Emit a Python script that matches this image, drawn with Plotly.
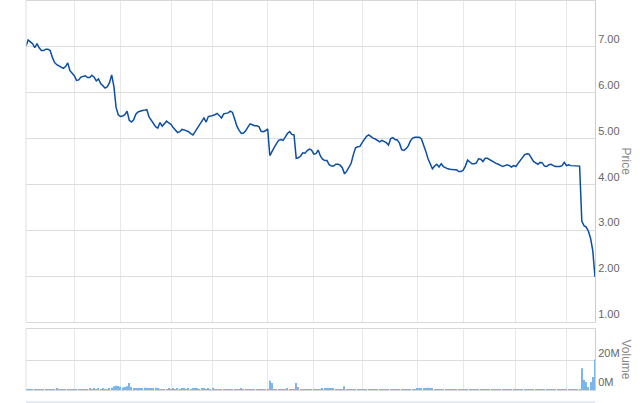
import plotly.graph_objects as go

# Daily closing price (one value per trading day)
price = [
    7.02, 7.15, 7.11, 7.07, 6.98, 7.07, 6.98, 6.92, 6.92, 6.95,
    6.95, 6.92, 6.77, 6.66, 6.61, 6.58, 6.56, 6.53, 6.57, 6.65,
    6.48, 6.43, 6.37, 6.27, 6.28, 6.34, 6.35, 6.37, 6.33, 6.33,
    6.38, 6.34, 6.26, 6.30, 6.20, 6.15, 6.10, 6.13, 6.22, 6.39,
    6.14, 5.68, 5.52, 5.48, 5.49, 5.52, 5.60, 5.40, 5.36, 5.41,
    5.53, 5.58, 5.60, 5.61, 5.62, 5.63, 5.47, 5.39, 5.32, 5.26,
    5.23, 5.35, 5.27, 5.32, 5.38, 5.34, 5.31, 5.24, 5.18, 5.13,
    5.15, 5.20, 5.19, 5.17, 5.15, 5.11, 5.08, 5.15, 5.23, 5.31,
    5.38, 5.45, 5.36, 5.48, 5.49, 5.50, 5.52, 5.55, 5.50, 5.45,
    5.54, 5.55, 5.56, 5.60, 5.57, 5.42, 5.27, 5.18, 5.11, 5.12,
    5.17, 5.25, 5.32, 5.30, 5.28, 5.28, 5.26, 5.16, 5.15, 5.17,
    5.21, 4.63, 4.73, 4.81, 4.89, 4.96, 4.98, 4.96, 5.03, 5.11,
    5.15, 5.09, 5.08, 4.57, 4.58, 4.62, 4.69, 4.68, 4.74, 4.77,
    4.75, 4.66, 4.67, 4.75, 4.62, 4.55, 4.52, 4.52, 4.43, 4.40,
    4.40, 4.44, 4.44, 4.42, 4.36, 4.23, 4.29, 4.37, 4.46, 4.65,
    4.80, 4.82, 4.83, 4.91, 4.98, 5.05, 5.08, 5.04, 5.01, 4.99,
    4.96, 4.93, 4.96, 4.94, 4.91, 4.86, 5.00, 5.02, 4.98, 4.97,
    4.90, 4.76, 4.74, 4.78, 4.84, 4.95, 5.01, 5.03, 5.03, 5.03,
    4.99, 4.87, 4.72, 4.56, 4.44, 4.34, 4.40, 4.44, 4.38, 4.45,
    4.39, 4.36, 4.34, 4.33, 4.32, 4.32, 4.32, 4.28, 4.28, 4.31,
    4.40, 4.53, 4.49, 4.45, 4.45, 4.47, 4.56, 4.55, 4.50, 4.57,
    4.57, 4.54, 4.51, 4.48, 4.46, 4.44, 4.41, 4.39, 4.41, 4.43,
    4.41, 4.38, 4.41, 4.39, 4.46, 4.52, 4.57, 4.65, 4.67, 4.66,
    4.58, 4.50, 4.47, 4.44, 4.48, 4.47, 4.40, 4.39, 4.43, 4.44,
    4.41, 4.39, 4.39, 4.39, 4.41, 4.48, 4.41, 4.43, 4.41, 4.41,
    4.41, 4.41, 4.40, 3.20, 3.10, 3.07, 2.98, 2.82, 2.55, 1.98,
]

# Daily traded volume, millions of shares
volume = [
    0.1, 0.1, 0.1, 0.1, 0.1, 0.1, 0.1, 0.1, 0.1, 0.1,
    0.1, 0.1, 0.1, 0.1, 0.7, 0.1, 0.1, 0.1, 0.1, 0.1,
    0.1, 0.1, 0.1, 0.6, 0.5, 0.6, 0.2, 0.2, 0.6, 0.7,
    0.5, 0.8, 0.6, 0.9, 0.6, 0.7, 0.3, 0.4, 1.2, 1.5,
    2.5, 3.0, 2.8, 2.2, 1.8, 2.0, 2.5, 4.8, 2.0, 1.3,
    1.2, 0.8, 0.9, 0.7, 1.5, 0.8, 1.2, 0.7, 0.8, 1.6,
    0.7, 0.6, 0.2, 0.2, 0.2, 0.7, 0.6, 0.7, 0.5, 0.7,
    0.6, 0.7, 0.7, 0.5, 0.7, 0.6, 0.7, 0.8, 0.7, 0.6,
    1.3, 0.7, 0.6, 0.7, 0.6, 0.7, 0.1, 0.1, 0.1, 0.1,
    0.1, 0.1, 0.1, 0.1, 0.6, 0.5, 0.6, 0.6, 0.7, 0.5,
    0.6, 0.6, 0.5, 0.6, 0.1, 0.1, 0.1, 0.1, 0.1, 0.1,
    0.1, 6.3, 4.8, 0.5, 0.6, 0.6, 0.5, 0.6, 0.6, 0.7,
    0.6, 0.6, 0.2, 4.8, 2.0, 0.2, 0.6, 0.5, 0.6, 0.6,
    0.6, 0.5, 0.6, 0.6, 0.6, 1.2, 1.3, 1.1, 1.2, 1.4,
    1.2, 0.2, 0.2, 0.2, 0.2, 2.5, 0.6, 0.6, 0.5, 0.6,
    0.6, 0.6, 0.1, 0.1, 0.1, 0.6, 0.6, 0.6, 0.1, 0.1,
    0.1, 0.1, 0.1, 0.1, 0.1, 0.6, 0.6, 0.6, 0.1, 0.1,
    0.6, 0.6, 0.5, 0.6, 0.6, 0.6, 0.5, 0.6, 0.8, 0.8,
    0.8, 0.8, 0.8, 1.5, 0.8, 0.8, 0.1, 0.1, 0.1, 0.1,
    0.1, 0.1, 0.1, 0.1, 0.1, 0.1, 0.6, 0.6, 0.6, 0.1,
    0.1, 0.1, 0.1, 0.1, 0.1, 0.1, 0.1, 0.1, 0.1, 0.1,
    0.1, 0.1, 0.1, 0.1, 0.1, 0.1, 0.1, 0.1, 0.1, 0.1,
    0.1, 0.1, 0.1, 0.1, 0.1, 0.1, 0.1, 0.1, 0.1, 0.1,
    0.1, 0.1, 0.1, 0.1, 0.1, 0.1, 0.1, 0.1, 0.1, 0.1,
    0.1, 0.1, 0.1, 0.1, 0.1, 0.6, 0.1, 0.1, 0.1, 0.1,
    0.1, 0.1, 0.1, 15.0, 7.0, 5.5, 2.0, 5.5, 9.0, 21.0,
]

day = list(range(len(price)))

# trading-day index of each month start (vertical grid lines)
month_start_idx = [22, 43, 66, 85, 110, 131, 153, 178, 199, 223, 246]
price_ticks = [1, 2, 3, 4, 5, 6, 7]
price_tick_labels = ["1.00", "2.00", "3.00", "4.00", "5.00", "6.00", "7.00"]
volume_ticks = [0, 20]
volume_tick_labels = ["0M", "20M"]

H = 403
grid_v = "#e8e8e8"
grid_h = "#dcdcdc"
axis_blue = "#c0d0e0"

fig = go.Figure()
fig.add_trace(go.Scatter(
    x=day, y=price, mode="lines",
    line=dict(color="#0b4ea2", width=1.5),
    xaxis="x", yaxis="y", showlegend=False, hoverinfo="skip",
))
fig.add_trace(go.Bar(
    x=day, y=volume, width=0.55,
    marker=dict(color="#7cb5ec", line=dict(width=0)),
    xaxis="x2", yaxis="y2", showlegend=False, hoverinfo="skip",
))

xcommon = dict(
    range=[0, len(price) - 1], tickvals=month_start_idx, showticklabels=False,
    showgrid=True, gridcolor=grid_v, gridwidth=1, ticks="",
    showline=True, mirror=True, linecolor="#d8d8d8", linewidth=1, zeroline=False,
)

fig.update_layout(
    width=640, height=H,
    margin=dict(l=26, r=45, t=0, b=0),
    paper_bgcolor="white", plot_bgcolor="white",
    font=dict(family="Liberation Sans, Arial, sans-serif", size=11, color="#666666"),
    xaxis=dict(anchor="y", **xcommon),
    xaxis2=dict(anchor="y2", matches="x", **xcommon),
    yaxis=dict(
        domain=[1 - 322 / H, 1 - 1 / H], range=[1, 8], side="right",
        tickvals=price_ticks, ticktext=price_tick_labels, ticks="",
        ticklabelposition="outside top",
        showgrid=True, gridcolor=grid_h, gridwidth=1,
        showline=True, linecolor=axis_blue, linewidth=1, zeroline=False,
    ),
    yaxis2=dict(
        domain=[1 - 390 / H, 1 - 329 / H], range=[0, 42], side="right",
        tickvals=volume_ticks, ticktext=volume_tick_labels, ticks="",
        ticklabelposition="outside top",
        showgrid=True, gridcolor=grid_h, gridwidth=1,
        showline=True, linecolor=axis_blue, linewidth=1, zeroline=False,
    ),
    bargap=0.5,
    shapes=[
        dict(type="line", xref="x domain", yref="y domain", x0=0, x1=0, y0=0, y1=1,
             line=dict(color="#e0e0e0", width=1)),
        dict(type="line", xref="x2 domain", yref="y2 domain", x0=0, x1=0, y0=0, y1=1,
             line=dict(color="#e0e0e0", width=1)),
        dict(type="line", xref="paper", yref="paper", x0=0, x1=1,
             y0=1 - 402 / H, y1=1 - 402 / H, line=dict(color="#ccd6eb", width=1)),
    ],
    annotations=[
        dict(text="Price", xref="paper", yref="y domain", x=1, y=0.5, xshift=31,
             xanchor="center", yanchor="middle",
             showarrow=False, textangle=90, font=dict(size=12, color="#888888")),
        dict(text="Volume", xref="paper", yref="y2 domain", x=1, y=0.5, xshift=31,
             xanchor="center", yanchor="middle",
             showarrow=False, textangle=90, font=dict(size=12, color="#888888")),
    ],
)

fig.write_html(
    "out.html",
    config={"displayModeBar": False},
    post_script="document.body.style.margin='0';document.body.style.overflow='hidden';",
)
